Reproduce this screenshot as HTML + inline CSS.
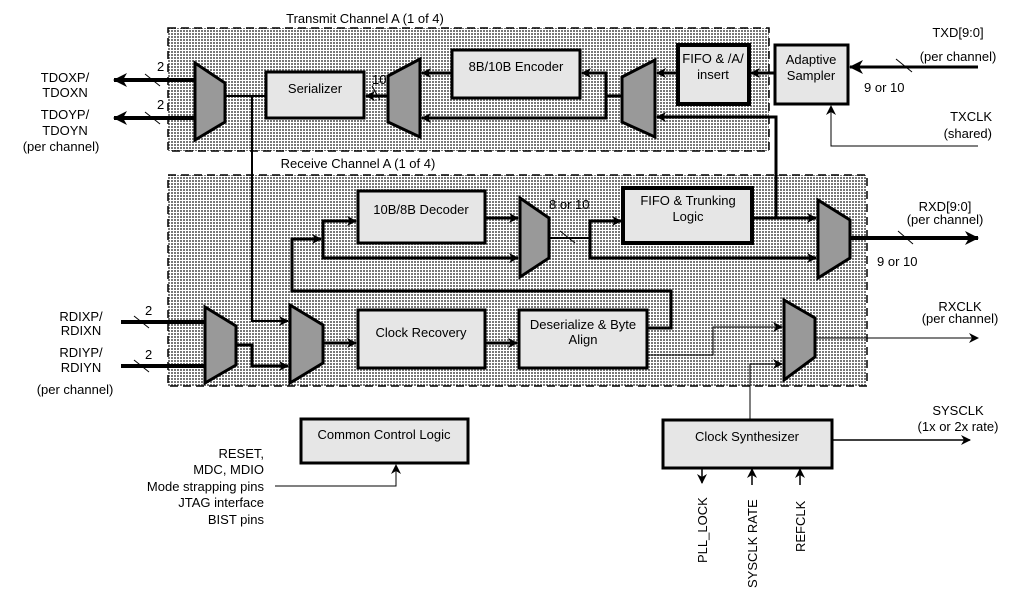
<!DOCTYPE html>
<html><head><meta charset="utf-8"><style>
html,body{margin:0;padding:0;background:#fff;}
svg{display:block;font-family:"Liberation Sans",sans-serif;font-size:13px;}
</style></head><body>
<svg width="1015" height="593" viewBox="0 0 1015 593" xmlns="http://www.w3.org/2000/svg">
<defs>
<pattern id="dots" width="3" height="3" patternUnits="userSpaceOnUse">
<rect width="3" height="3" fill="#fff"/><rect width="2" height="2" fill="#777"/>
</pattern>
<marker id="ah" markerWidth="10" markerHeight="10" refX="9" refY="5" orient="auto" markerUnits="userSpaceOnUse">
<path d="M0,0 L10,5 L0,10 L3,5 Z" fill="#000"/></marker>
<marker id="ahb" markerWidth="14" markerHeight="14" refX="13" refY="7" orient="auto" markerUnits="userSpaceOnUse">
<path d="M0,0 L14,7 L0,14 L4,7 Z" fill="#000"/></marker>
</defs>

<rect x="168" y="28" width="601" height="123" fill="url(#dots)" stroke="#000" stroke-width="1.5" stroke-dasharray="8,5"/>
<rect x="168" y="175" width="699" height="211" fill="url(#dots)" stroke="#000" stroke-width="1.5" stroke-dasharray="8,5"/>
<text x="365" y="23" text-anchor="middle">Transmit Channel A (1 of 4)</text>
<text x="358" y="168" text-anchor="middle">Receive Channel A (1 of 4)</text>

<g fill="none" stroke="#000">
<line x1="195" y1="80" x2="114" y2="80" stroke-width="4" marker-end="url(#ahb)"/>
<line x1="195" y1="118" x2="114" y2="118" stroke-width="4" marker-end="url(#ahb)"/>
<line x1="145" y1="74" x2="160" y2="86" stroke-width="1"/>
<line x1="145" y1="112" x2="160" y2="124" stroke-width="1"/>
<polyline points="225,96 266,96" stroke-width="2"/>
<polyline points="252,96 252,321 288,321" stroke-width="2" marker-end="url(#ah)"/>
<line x1="388" y1="96" x2="366" y2="96" stroke-width="3" marker-end="url(#ah)"/>
<line x1="372" y1="86" x2="380" y2="100" stroke-width="1"/>
<line x1="452" y1="73" x2="422" y2="73" stroke-width="3" marker-end="url(#ah)"/>
<polyline points="622,96 606,96 606,73 582,73" stroke-width="3" marker-end="url(#ah)"/>
<polyline points="606,96 606,118 422,118" stroke-width="3" marker-end="url(#ah)"/>
<line x1="678" y1="73" x2="657" y2="73" stroke-width="3" marker-end="url(#ah)"/>
<line x1="775" y1="73" x2="751" y2="73" stroke-width="3" marker-end="url(#ah)"/>
<polyline points="776,218 776,117 657,117" stroke-width="3" marker-end="url(#ah)"/>
<line x1="978" y1="67" x2="850" y2="67" stroke-width="3" marker-end="url(#ahb)"/>
<line x1="896" y1="59" x2="912" y2="72" stroke-width="1"/>
<polyline points="978,146 831,146 831,106" stroke-width="1" marker-end="url(#ah)"/>

<line x1="121" y1="322" x2="204" y2="322" stroke-width="4"/>
<line x1="121" y1="366" x2="204" y2="366" stroke-width="4"/>
<line x1="134" y1="316" x2="149" y2="328" stroke-width="1"/>
<line x1="134" y1="360" x2="149" y2="372" stroke-width="1"/>
<polyline points="236,345 252,345 252,366 288,366" stroke-width="3" marker-end="url(#ah)"/>
<line x1="323" y1="343" x2="356" y2="343" stroke-width="3" marker-end="url(#ah)"/>
<line x1="485" y1="343" x2="517" y2="343" stroke-width="3" marker-end="url(#ah)"/>
<polyline points="647,328 671,328 671,291 292,291 292,239 321,239" stroke-width="3" marker-end="url(#ah)"/>
<polyline points="323,258 323,221 356,221" stroke-width="3" marker-end="url(#ah)"/>
<polyline points="323,239 323,258 518,258" stroke-width="3" marker-end="url(#ah)"/>
<line x1="485" y1="218" x2="518" y2="218" stroke-width="3" marker-end="url(#ah)"/>
<polyline points="549,238 590,238" stroke-width="2"/>
<line x1="560" y1="231" x2="575" y2="243" stroke-width="1"/>
<polyline points="590,258 590,221 621,221" stroke-width="3" marker-end="url(#ah)"/>
<polyline points="590,238 590,258 816,258" stroke-width="3" marker-end="url(#ah)"/>
<line x1="752" y1="218" x2="816" y2="218" stroke-width="3" marker-end="url(#ah)"/>
<line x1="850" y1="238" x2="978" y2="238" stroke-width="4" marker-end="url(#ahb)"/>
<line x1="898" y1="231" x2="913" y2="244" stroke-width="1"/>
<polyline points="645,355 713,355 713,327 782,327" stroke-width="1" marker-end="url(#ah)"/>
<polyline points="750,420 750,364 782,364" stroke-width="1" marker-end="url(#ah)"/>
<line x1="811" y1="338" x2="978" y2="338" stroke-width="1" marker-end="url(#ah)"/>

<polyline points="275,486 396,486 396,465" stroke-width="1" marker-end="url(#ah)"/>
<line x1="832" y1="440" x2="970" y2="440" stroke-width="1.5" marker-end="url(#ah)"/>
<line x1="702" y1="468" x2="702" y2="483" stroke-width="1.5" marker-end="url(#ah)"/>
<line x1="752" y1="485" x2="752" y2="469" stroke-width="1.5" marker-end="url(#ah)"/>
<line x1="800" y1="485" x2="800" y2="469" stroke-width="1.5" marker-end="url(#ah)"/>
</g>

<g fill="#999" stroke="#000" stroke-width="3" stroke-linejoin="miter">
<polygon points="195,63 225,83 225,122 195,140"/>
<polygon points="388,76 420,59 420,137 388,122"/>
<polygon points="622,77 655,60 655,137 622,122"/>
<polygon points="205,307 236,326 236,365 205,383"/>
<polygon points="290,305 323,325 323,363 290,383"/>
<polygon points="520,198 549,218 549,258 520,277"/>
<polygon points="818,200 850,220 850,258 818,278"/>
<polygon points="784,300 815,318 815,357 784,380"/>
</g>

<g fill="#e6e6e6" stroke="#000" stroke-width="3">
<rect x="266" y="72" width="98" height="46"/>
<rect x="452" y="50" width="128" height="48"/>
<rect x="678" y="45" width="71" height="59" stroke-width="4"/>
<rect x="775" y="45" width="73" height="59"/>
<rect x="358" y="191" width="127" height="52"/>
<rect x="623" y="188" width="129" height="55" stroke-width="4"/>
<rect x="358" y="310" width="127" height="58"/>
<rect x="519" y="310" width="128" height="58"/>
<rect x="301" y="419" width="167" height="44"/>
<rect x="663" y="420" width="169" height="48"/>
</g>

<g fill="#000">
<text x="315" y="93" text-anchor="middle">Serializer</text>
<text x="516" y="71" text-anchor="middle">8B/10B Encoder</text>
<text x="713" y="63" text-anchor="middle">FIFO &amp; /A/</text>
<text x="713" y="79" text-anchor="middle">insert</text>
<text x="811" y="64" text-anchor="middle">Adaptive</text>
<text x="811" y="80" text-anchor="middle">Sampler</text>
<text x="421" y="214" text-anchor="middle">10B/8B Decoder</text>
<text x="688" y="205" text-anchor="middle">FIFO &amp; Trunking</text>
<text x="688" y="221" text-anchor="middle">Logic</text>
<text x="421" y="337" text-anchor="middle">Clock Recovery</text>
<text x="583" y="329" text-anchor="middle">Deserialize &amp; Byte</text>
<text x="583" y="344" text-anchor="middle">Align</text>
<text x="384" y="439" text-anchor="middle">Common Control Logic</text>
<text x="747" y="441" text-anchor="middle">Clock Synthesizer</text>

<text x="157" y="71">2</text>
<text x="157" y="109">2</text>
<text x="372" y="84">10</text>
<text x="65" y="82" text-anchor="middle">TDOXP/</text>
<text x="65" y="97" text-anchor="middle">TDOXN</text>
<text x="65" y="119" text-anchor="middle">TDOYP/</text>
<text x="65" y="135" text-anchor="middle">TDOYN</text>
<text x="61" y="151" text-anchor="middle">(per channel)</text>
<text x="958" y="37" text-anchor="middle">TXD[9:0]</text>
<text x="958" y="61" text-anchor="middle">(per channel)</text>
<text x="864" y="92">9 or 10</text>
<text x="992" y="121" text-anchor="end">TXCLK</text>
<text x="992" y="138" text-anchor="end">(shared)</text>

<text x="145" y="315">2</text>
<text x="145" y="359">2</text>
<text x="81" y="321" text-anchor="middle">RDIXP/</text>
<text x="81" y="335" text-anchor="middle">RDIXN</text>
<text x="81" y="357" text-anchor="middle">RDIYP/</text>
<text x="81" y="372" text-anchor="middle">RDIYN</text>
<text x="75" y="394" text-anchor="middle">(per channel)</text>
<text x="549" y="209">8 or 10</text>
<text x="945" y="211" text-anchor="middle">RXD[9:0]</text>
<text x="945" y="224" text-anchor="middle">(per channel)</text>
<text x="877" y="266">9 or 10</text>
<text x="960" y="311" text-anchor="middle">RXCLK</text>
<text x="960" y="323" text-anchor="middle">(per channel)</text>

<text x="264" y="458" text-anchor="end">RESET,</text>
<text x="264" y="474" text-anchor="end">MDC, MDIO</text>
<text x="264" y="491" text-anchor="end">Mode strapping pins</text>
<text x="264" y="507" text-anchor="end">JTAG interface</text>
<text x="264" y="524" text-anchor="end">BIST pins</text>
<text x="958" y="415" text-anchor="middle">SYSCLK</text>
<text x="958" y="431" text-anchor="middle">(1x or 2x rate)</text>
<text transform="translate(707,563) rotate(-90)">PLL_LOCK</text>
<text transform="translate(757,588) rotate(-90)">SYSCLK RATE</text>
<text transform="translate(805,552) rotate(-90)">REFCLK</text>
</g>
</svg>
</body></html>
